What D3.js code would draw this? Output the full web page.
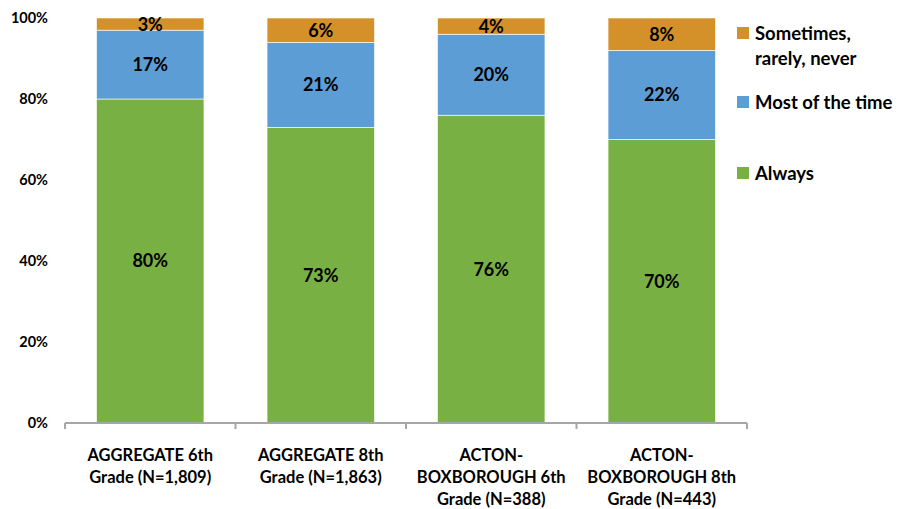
<!DOCTYPE html>
<meta charset="utf-8">
<script src="https://d3js.org/d3.v7.min.js"></script>
<style>
  body { margin: 0; background: #fff; }
  text { font-family: Lato, "Open Sans", sans-serif; font-weight: bold; fill: #000; }
</style>
<div id="chart"></div>
<script>
// categories (line breaks as in the picture)
var categories = [
  "AGGREGATE 6th\nGrade (N=1,809)",
  "AGGREGATE 8th\nGrade (N=1,863)",
  "ACTON-\nBOXBOROUGH 6th\nGrade (N=388)",
  "ACTON-\nBOXBOROUGH 8th\nGrade (N=443)"
];
var seriesNames = ["Always", "Most of the time", "Sometimes, rarely, never"];
var always = [80, 73, 76, 70];
var mostOfTime = [17, 21, 20, 22];
var sometimes = [3, 6, 4, 8];
var yTicks = [0, 20, 40, 60, 80, 100];
var colors = ["#79b044", "#5d9dd5", "#d4912a"];

var width = 900, height = 509;
var margin = {top: 18, left: 65, right: 153, bottom: 86};

var svg = d3.select("#chart").append("svg")
  .attr("width", width)
  .attr("height", height);

var data = categories.map(function(c, i) {
  return {cat: c, "Always": always[i], "Most of the time": mostOfTime[i], "Sometimes, rarely, never": sometimes[i]};
});

var x = d3.scaleBand()
  .domain(categories)
  .range([margin.left, width - margin.right])
  .paddingInner(0.37)
  .paddingOuter(0.185);

var y = d3.scaleLinear()
  .domain([0, 100])
  .range([height - margin.bottom, margin.top]);

var color = d3.scaleOrdinal().domain(seriesNames).range(colors);

var stacked = d3.stack().keys(seriesNames)(data);

// bars
var layer = svg.append("g").selectAll("g")
  .data(stacked)
  .enter().append("g")
    .attr("fill", function(d) { return color(d.key); });

layer.selectAll("rect")
  .data(function(d) { return d; })
  .enter().append("rect")
    .attr("x", function(d) { return x(d.data.cat); })
    .attr("y", function(d) { return y(d[1]); })
    .attr("height", function(d) { return y(d[0]) - y(d[1]); })
    .attr("width", x.bandwidth())
    .attr("stroke", "#fff")
    .attr("stroke-width", 0.6);

// value labels
layer.selectAll("text")
  .data(function(d) { return d; })
  .enter().append("text")
    .attr("x", function(d) { return x(d.data.cat) + x.bandwidth() / 2; })
    .attr("y", function(d) { return (y(d[0]) + y(d[1])) / 2; })
    .attr("dy", "0.36em")
    .attr("text-anchor", "middle")
    .style("font-size", "18px")
    .text(function(d) { return Math.round(d[1] - d[0]) + "%"; });

// y axis labels (no line)
svg.append("g").selectAll("text")
  .data(yTicks)
  .enter().append("text")
    .attr("x", 48)
    .attr("y", function(d) { return y(d); })
    .attr("dy", "0.36em")
    .attr("text-anchor", "end")
    .style("font-size", "14.5px")
    .text(function(d) { return d + "%"; });

// x axis
var xAxis = svg.append("g")
  .attr("transform", "translate(0," + y(0) + ")");
var bounds = [margin.left].concat(categories.map(function(c) {
  return x(c) + x.bandwidth() + x.step() * x.paddingInner() / 2;
}));
bounds[bounds.length - 1] = width - margin.right;
xAxis.append("line")
  .attr("x1", margin.left).attr("x2", width - margin.right)
  .attr("stroke", "#a6a6a6").attr("stroke-width", 2);
xAxis.selectAll(".tick")
  .data(bounds)
  .enter().append("line")
    .attr("x1", function(d) { return d; })
    .attr("x2", function(d) { return d; })
    .attr("y1", 0).attr("y2", 6)
    .attr("stroke", "#a6a6a6").attr("stroke-width", 2);

xAxis.selectAll(".lbl")
  .data(categories)
  .enter().append("text")
    .attr("text-anchor", "middle")
    .style("font-size", "16.5px")
    .each(function(c) {
      var t = d3.select(this);
      c.split("\n").forEach(function(line, i) {
        t.append("tspan")
          .attr("x", x(c) + x.bandwidth() / 2)
          .attr("y", 38 + i * 22)
          .text(line);
      });
    });

// legend
var legendItems = [
  {name: "Sometimes, rarely, never", lines: ["Sometimes,", "rarely, never"], y: 33},
  {name: "Most of the time", lines: ["Most of the time"], y: 102},
  {name: "Always", lines: ["Always"], y: 173}
];
var legend = svg.append("g").selectAll("g")
  .data(legendItems)
  .enter().append("g");
legend.append("rect")
  .attr("x", 737)
  .attr("y", function(d) { return d.y - 6; })
  .attr("width", 12).attr("height", 12)
  .attr("fill", function(d) { return color(d.name); });
legend.append("text")
  .style("font-size", "18.5px")
  .each(function(d) {
    var t = d3.select(this);
    d.lines.forEach(function(line, i) {
      t.append("tspan")
        .attr("x", 755)
        .attr("y", d.y + i * 25)
        .attr("dy", "0.36em")
        .text(line);
    });
  });
</script>
